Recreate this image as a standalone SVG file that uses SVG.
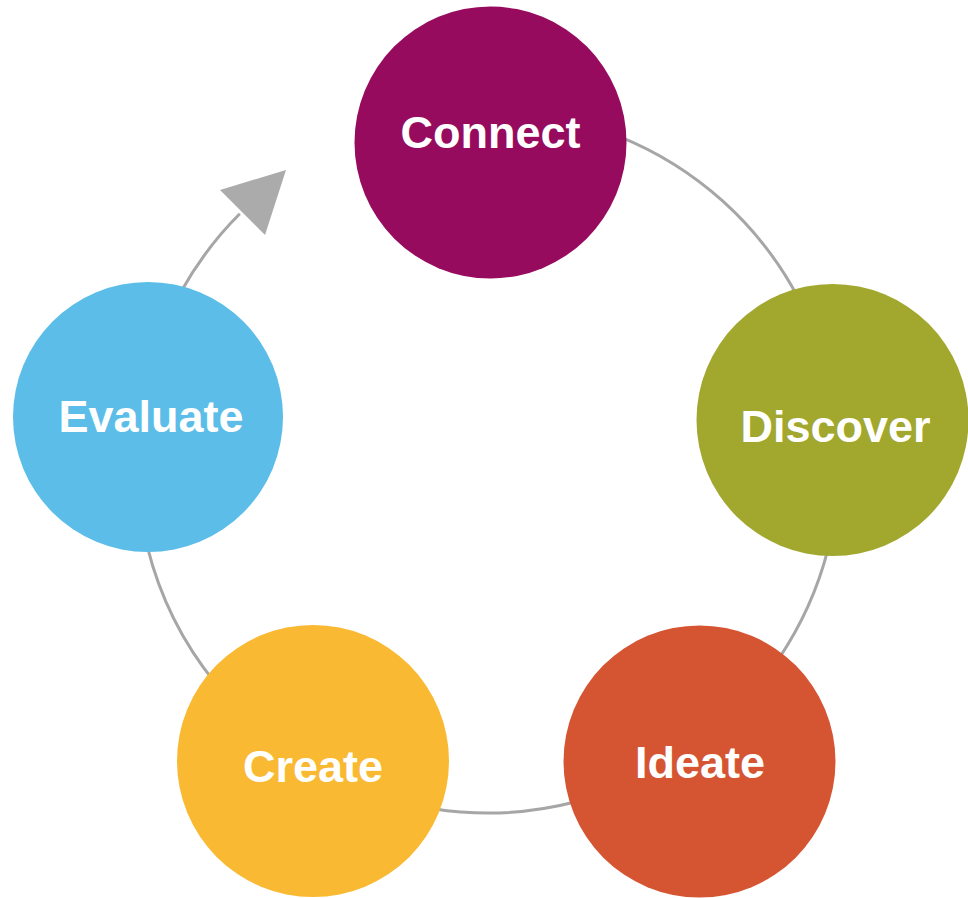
<svg xmlns="http://www.w3.org/2000/svg" width="968" height="898" viewBox="0 0 968 898">
<style>
.arc{fill:none;stroke:#A6A6A6;stroke-width:3}
.lbl{font-family:"Liberation Sans",Arial,sans-serif;font-weight:bold;font-size:45px;fill:#FFFFFF;text-anchor:middle}
</style>
<rect width="968" height="898" fill="#FFFFFF"/>
<g id="connectors">
<path class="arc" d="M619.5,136.6 A351,351 0 0 1 797.9,297.2"/>
<path class="arc" d="M827.8,549.9 A351,351 0 0 1 779,658.3"/>
<path class="arc" d="M575.9,801.8 A351,351 0 0 1 433.1,808.7"/>
<path class="arc" d="M215.2,682.9 A351,351 0 0 1 147.4,546.9"/>
<path class="arc" d="M181,291.8 A351,351 0 0 1 239.8,213.8"/>
<polygon points="220,190 286,170 265,235" fill="#ABABAB"/>
</g>
<g id="connect">
<circle cx="490.5" cy="142.5" r="136" fill="#960B5E"/>
<text class="lbl" x="490.5" y="148">Connect</text>
</g>
<g id="discover">
<circle cx="832.5" cy="420" r="136" fill="#A2A72E"/>
<text class="lbl" x="835.5" y="442">Discover</text>
</g>
<g id="ideate">
<circle cx="699.5" cy="761.5" r="136" fill="#D55533"/>
<text class="lbl" x="700" y="778">Ideate</text>
</g>
<g id="create">
<circle cx="313" cy="761" r="136" fill="#FAB933"/>
<text class="lbl" x="313" y="782">Create</text>
</g>
<g id="evaluate">
<circle cx="148" cy="417" r="135" fill="#5BBDE8"/>
<text class="lbl" x="151" y="432">Evaluate</text>
</g>
</svg>
